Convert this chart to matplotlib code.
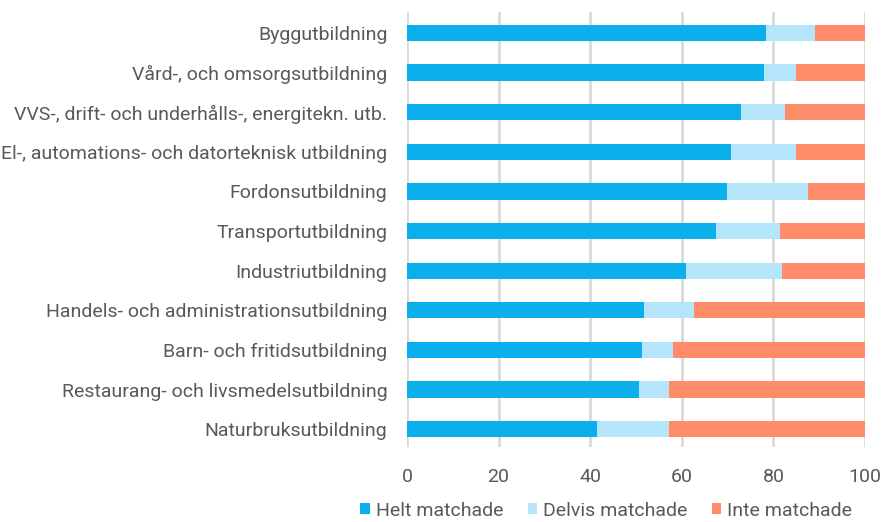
import matplotlib.pyplot as plt
import numpy as np

categories = ["Byggutbildning",
              "Vård-, och omsorgsutbildning",
              "VVS-, drift- och underhålls-, energitekn. utb.",
              "El-, automations- och datorteknisk utbildning",
              "Fordonsutbildning",
              "Transportutbildning",
              "Industriutbildning",
              "Handels- och administrationsutbildning",
              "Barn- och fritidsutbildning",
              "Restaurang- och livsmedelsutbildning",
              "Naturbruksutbildning"]
helt = [78.3, 77.9, 72.9, 70.8, 69.8, 67.4, 60.9, 51.7, 51.3, 50.7, 41.4]
delvis = [10.7, 7.0, 9.7, 14.1, 17.7, 14.0, 20.9, 10.9, 6.7, 6.5, 15.8]
inte = [100 - h - d for h, d in zip(helt, delvis)]
series_names = ["Helt matchade", "Delvis matchade", "Inte matchade"]
xticks = [0, 20, 40, 60, 80, 100]

plt.rcParams['font.family'] = ['Roboto', 'DejaVu Sans']
txt = '#595959'

fig = plt.figure(figsize=(8.83, 5.22), dpi=100)
ax = fig.add_axes([407/883, 1 - 447/522, 458/883, 435/522])

y = np.arange(len(categories))
left = np.zeros(len(categories))
for vals, name, col in zip([helt, delvis, inte], series_names,
                           ['#0BAFEC', '#B5E5FA', '#FF8C69']):
    ax.barh(y, vals, left=left, height=0.41, color=col, label=name, zorder=3)
    left += np.array(vals)

ax.set_xlim(0, 100)
ax.set_ylim(10.45, -0.53)
ax.set_yticks(y)
ax.set_yticklabels(categories, fontsize=14, color=txt)
ax.set_xticks(xticks)
ax.set_xticklabels([str(t) for t in xticks], fontsize=14, color=txt)
ax.tick_params(axis='both', length=0)
ax.tick_params(axis='x', pad=15)
ax.tick_params(axis='y', pad=14)
ax.grid(axis='x', color='#D9D9D9', linewidth=2, zorder=0)
for s in ax.spines.values():
    s.set_visible(False)

ax.legend(loc='upper center', bbox_to_anchor=(0.435, -0.094), ncol=3, frameon=False,
          fontsize=14, labelcolor=txt, handlelength=0.5, handleheight=0.5,
          handletextpad=0.3, columnspacing=1.25, borderpad=0.2)

fig.savefig('out.png', dpi=100)
